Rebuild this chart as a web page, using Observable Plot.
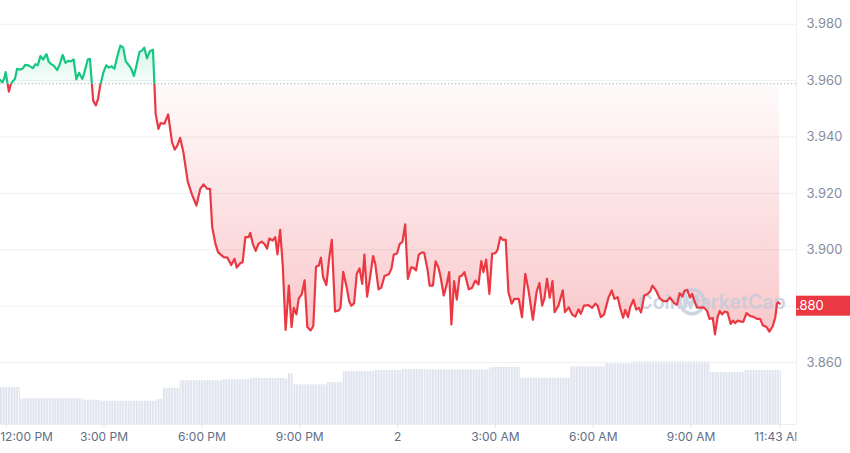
<!DOCTYPE html>
<html>
<head>
<meta charset="utf-8">
<script src="https://cdn.jsdelivr.net/npm/d3@7"></script>
<script src="https://cdn.jsdelivr.net/npm/@observablehq/plot@0.6"></script>
<style>
html,body{margin:0;padding:0;background:#fff;}
#wrap{position:relative;width:850px;height:453px;overflow:hidden;font-family:Inter,"Noto Sans",sans-serif;}
#wrap svg{position:absolute;left:0;top:0;}
</style>
</head>
<body>
<div id="wrap"></div>
<script>
// ---- price series (24h, local time; hour wrap = next day) ----
const times = ["11:45","11:53","11:56","11:59","12:02","12:05","12:08","12:12","12:16","12:20","12:25","12:30","12:35","12:41","12:49","12:54","12:58","13:03","13:08","13:14","13:18","13:23","13:27","13:34","13:38","13:44","13:49","13:54","13:59","14:04","14:09","14:14","14:20","14:24","14:30","14:34","14:36","14:40","14:45","14:49","14:53","14:59","15:04","15:09","15:14","15:19","15:24","15:30","15:35","15:40","15:45","15:50","15:55","16:00","16:05","16:10","16:14","16:19","16:24","16:30","16:35","16:40","16:44","16:51","16:58","17:05","17:10","17:15","17:20","17:26","17:34","17:42","17:50","17:57","18:03","18:10","18:15","18:19","18:25","18:30","18:40","18:47","18:54","19:00","19:04","19:11","19:15","19:20","19:26","19:29","19:34","19:39","19:44","19:50","19:55","20:00","20:04","20:10","20:15","20:19","20:24","20:29","20:34","20:40","20:45","20:49","20:54","20:58","21:04","21:09","21:14","21:20","21:25","21:30","21:35","21:39","21:43","21:49","21:54","21:59","22:05","22:12","22:15","22:20","22:26","22:31","22:35","22:40","22:45","22:50","22:55","22:59","23:04","23:09","23:15","23:19","23:25","23:30","23:36","23:44","23:49","23:53","23:59","00:04","00:09","00:14","00:19","00:25","00:30","00:34","00:39","00:45","00:49","00:55","00:59","01:05","01:10","01:15","01:19","01:25","01:30","01:35","01:39","01:44","01:49","01:54","01:58","02:03","02:11","02:17","02:23","02:29","02:34","02:38","02:43","02:49","02:54","03:00","03:04","03:09","03:14","03:19","03:24","03:30","03:35","03:43","03:49","03:55","04:01","04:09","04:16","04:21","04:26","04:30","04:35","04:40","04:45","04:49","04:56","05:04","05:08","05:15","05:21","05:27","05:33","05:37","05:43","05:51","05:58","06:04","06:08","06:14","06:20","06:28","06:34","06:39","06:45","06:50","06:55","06:59","07:04","07:08","07:14","07:19","07:24","07:28","07:34","07:40","07:45","07:49","07:56","08:02","08:09","08:16","08:21","08:29","08:34","08:39","08:44","08:48","08:53","08:58","09:02","09:07","09:11","09:18","09:23","09:29","09:34","09:40","09:44","09:49","09:53","09:57","10:02","10:07","10:13","10:17","10:21","10:26","10:30","10:36","10:42","10:49","10:55","11:01","11:07","11:12","11:19","11:24","11:30","11:35","11:38","11:40","11:43"];
const prices = [3.9609,3.9594,3.9606,3.9630,3.9594,3.9561,3.9585,3.9597,3.9606,3.9642,3.9639,3.9642,3.9656,3.9654,3.9644,3.9658,3.9654,3.9687,3.9675,3.9694,3.9668,3.9658,3.9654,3.9637,3.9656,3.9691,3.9663,3.9670,3.9668,3.9675,3.9604,3.9628,3.9606,3.9630,3.9675,3.9677,3.9630,3.9529,3.9512,3.9535,3.9583,3.9630,3.9654,3.9646,3.9651,3.9642,3.9683,3.9724,3.9718,3.9668,3.9656,3.9642,3.9616,3.9656,3.9701,3.9707,3.9717,3.9679,3.9703,3.9710,3.9482,3.9429,3.9449,3.9447,3.9480,3.9382,3.9355,3.9370,3.9397,3.9346,3.9242,3.9195,3.9157,3.9216,3.9232,3.9216,3.9216,3.9080,3.9021,3.8991,3.8974,3.8972,3.8946,3.8968,3.8937,3.8953,3.8956,3.9045,3.9045,3.9060,3.9019,3.8996,3.9021,3.9029,3.9021,3.9004,3.9040,3.9033,3.9045,3.8984,3.9071,3.8938,3.8716,3.8873,3.8726,3.8794,3.8771,3.8826,3.8844,3.8892,3.8726,3.8714,3.8729,3.8940,3.8944,3.8972,3.8903,3.8875,3.8966,3.9035,3.8781,3.8785,3.8795,3.8922,3.8871,3.8817,3.8802,3.8810,3.8915,3.8934,3.8879,3.8983,3.8834,3.8897,3.8978,3.8950,3.8860,3.8866,3.8907,3.8913,3.8935,3.8983,3.8987,3.9021,3.9028,3.9090,3.8897,3.8938,3.8935,3.8927,3.8983,3.8991,3.8989,3.8932,3.8873,3.8873,3.8959,3.8938,3.8906,3.8838,3.8873,3.8921,3.8735,3.8889,3.8823,3.8905,3.8908,3.8921,3.8860,3.8865,3.8891,3.8877,3.8960,3.8921,3.8965,3.8844,3.8986,3.8988,3.9000,3.9045,3.9035,3.9035,3.8850,3.8809,3.8826,3.8826,3.8761,3.8915,3.8856,3.8752,3.8853,3.8882,3.8802,3.8826,3.8897,3.8830,3.8889,3.8779,3.8802,3.8856,3.8779,3.8796,3.8771,3.8763,3.8789,3.8773,3.8802,3.8804,3.8794,3.8809,3.8802,3.8761,3.8771,3.8830,3.8856,3.8826,3.8832,3.8791,3.8759,3.8787,3.8761,3.8796,3.8823,3.8788,3.8794,3.8778,3.8838,3.8843,3.8853,3.8873,3.8854,3.8829,3.8818,3.8818,3.8831,3.8811,3.8805,3.8846,3.8834,3.8855,3.8858,3.8830,3.8844,3.8814,3.8796,3.8795,3.8796,3.8785,3.8755,3.8758,3.8700,3.8763,3.8783,3.8771,3.8781,3.8778,3.8737,3.8749,3.8740,3.8749,3.8746,3.8744,3.8775,3.8765,3.8762,3.8755,3.8755,3.8732,3.8726,3.8710,3.8728,3.8760,3.8809,3.8814,3.8809];
const baseline = 3.9589;      // 24h open (dotted reference)
const currentPrice = 3.880;   // price tag on the right

// ---- volume steps ----
const volStart = ["11:43","12:26","14:22","14:53","16:38","16:49","17:20","18:38","19:29","20:34","20:39","20:48","21:51","22:20","23:19","00:09","00:51","02:50","03:46","05:18","06:22","07:12","09:35","10:39","11:46"];
const volume = [37,25.7,24.3,23.3,25,36.3,43.7,44.7,46,45,50.7,39.7,42,53,54,55,54.7,57,46.3,57.7,60.7,62.7,52,54];

// ---- axes ----
const yTicks = [3.86,3.88,3.90,3.92,3.94,3.96,3.98];
const xTickTimes = ["12:00","15:00","18:00","21:00","00:00","03:00","06:00","09:00","11:43"];
const xTickLabels = ["12:00 PM","3:00 PM","6:00 PM","9:00 PM","2","3:00 AM","6:00 AM","9:00 AM","11:43 AM"];

if (times.length !== prices.length) throw new Error("length mismatch " + times.length + " vs " + prices.length);

function parseSeries(arr, startDay = 1) {
  let day = startDay, prev = -1;
  return arr.map(s => {
    const [h, m] = s.split(":").map(Number);
    const mins = h * 60 + m;
    if (mins < prev) day++;
    prev = mins;
    return new Date(2024, 5, day, h, m);
  });
}
const dates = parseSeries(times);
const data = dates.map((d, i) => ({date: d, price: prices[i]}));
const vDates = parseSeries(volStart);
const volData = volume.map((v, i) => ({start: vDates[i], end: vDates[i + 1], v}));
const xTickDates = parseSeries(xTickTimes);
const xDomain = [new Date(2024, 5, 1, 11, 49, 30), new Date(2024, 5, 2, 12, 14)];
const yDomain = [3.83805, 3.9884];
// the tick hidden under the current-price tag is not printed
const yLabelTicks = yTicks.filter(t => Math.abs(t - currentPrice) > 0.005);

const W = 850, H = 453, MR = 54, MB = 29;
const labelFont = "Inter, 'Noto Sans', sans-serif";

// ---- volume layer ----
const vol = Plot.plot({
  width: W, height: H, marginLeft: 0, marginRight: MR, marginTop: 324, marginBottom: MB,
  style: {background: "transparent"},
  x: {type: "time", domain: xDomain, axis: null},
  y: {domain: [0, 100], axis: null},
  marks: [
    Plot.rectY(volData, {x1: "start", x2: "end", y: "v", fill: "url(#volPat)"})
  ]
});
{
  const xs = vol.scale("x");
  const step = xs.apply(new Date(+xDomain[0] + 5 * 60000)) - xs.apply(xDomain[0]);
  const defs = d3.select(vol).insert("defs", ":first-child");
  const p = defs.append("pattern").attr("id", "volPat").attr("patternUnits", "userSpaceOnUse")
    .attr("x", 0).attr("y", 0).attr("width", step).attr("height", 10);
  p.append("rect").attr("width", step).attr("height", 10).attr("fill", "#f6f7fa");
  p.append("rect").attr("width", step * 0.6).attr("height", 10).attr("fill", "#dee2ee");
}

// ---- price layer ----
const main = Plot.plot({
  width: W, height: H, marginLeft: 0, marginRight: MR, marginTop: 0, marginBottom: MB,
  style: {background: "transparent", fontFamily: labelFont, overflow: "visible"},
  x: {type: "time", domain: xDomain, axis: null},
  y: {domain: yDomain, axis: null},
  marks: [
    Plot.ruleY(yTicks, {stroke: "#eff0f3"}),
    Plot.ruleX([xDomain[1]], {stroke: "#eff0f3"}),
    Plot.frame({anchor: "bottom", stroke: "#eceef2"}),
    Plot.axisX({ticks: xTickDates, tickSize: 4, tickFormat: () => "", stroke: "#e3e6ec", label: null}),
    Plot.ruleY([baseline], {stroke: "#a9afbc", strokeDasharray: "1.3,2.2"}),
    Plot.areaY(data, {x: "date", y1: baseline, y2: "price", fill: "url(#gradUp)"}),
    Plot.areaY(data, {x: "date", y1: baseline, y2: "price", fill: "url(#gradDown)"}),
    Plot.lineY(data, {x: "date", y: "price", stroke: "#16c784", strokeWidth: 2.2}),
    Plot.lineY(data, {x: "date", y: "price", stroke: "#ea3943", strokeWidth: 2.2}),
    Plot.text(yLabelTicks, {x: xDomain[1], y: d => d, text: d => d.toFixed(3), textAnchor: "start", dx: 10, fill: "#858ea0", fontSize: 13}),
    Plot.text(xTickLabels.slice(0, 1), {x: (d, i) => xTickDates[i], text: d => d, frameAnchor: "bottom", dy: 16, textAnchor: "start", dx: -6, fill: "#616e85", fontSize: 12}),
    Plot.text(xTickLabels.slice(1), {x: (d, i) => xTickDates[i + 1], text: d => d, frameAnchor: "bottom", dy: 16, fill: "#616e85", fontSize: 12, fontWeight: (d) => d === "2" ? 700 : 400})
  ]
});

{
  const ys = main.scale("y"), xs = main.scale("x");
  const yb = ys.apply(baseline);
  const xr = xs.apply(xDomain[1]);
  const svg = d3.select(main);
  const defs = svg.insert("defs", ":first-child");
  const gu = defs.append("linearGradient").attr("id", "gradUp").attr("gradientUnits", "userSpaceOnUse")
    .attr("x1", 0).attr("x2", 0).attr("y1", ys.apply(3.973)).attr("y2", yb);
  gu.append("stop").attr("offset", 0).attr("stop-color", "#16c784").attr("stop-opacity", 0.2);
  gu.append("stop").attr("offset", 1).attr("stop-color", "#16c784").attr("stop-opacity", 0.03);
  const gd = defs.append("linearGradient").attr("id", "gradDown").attr("gradientUnits", "userSpaceOnUse")
    .attr("x1", 0).attr("x2", 0).attr("y1", yb).attr("y2", ys.apply(3.870));
  gd.append("stop").attr("offset", 0).attr("stop-color", "#ea3943").attr("stop-opacity", 0.02);
  gd.append("stop").attr("offset", 1).attr("stop-color", "#ea3943").attr("stop-opacity", 0.28);
  defs.append("clipPath").attr("id", "clipUp").append("rect").attr("x", -10).attr("y", -10).attr("width", W + 20).attr("height", yb + 10);
  defs.append("clipPath").attr("id", "clipDown").append("rect").attr("x", -10).attr("y", yb).attr("width", W + 20).attr("height", H - yb);
  defs.append("clipPath").attr("id", "clipX").append("rect").attr("x", -10).attr("y", 0).attr("width", xr + 10).attr("height", H);

  const areas = svg.selectAll('g[aria-label="area"]').nodes();
  d3.select(areas[0]).attr("clip-path", "url(#clipUp)");
  d3.select(areas[1]).attr("clip-path", "url(#clipDown)");
  const lines = svg.selectAll('g[aria-label="line"]').nodes();
  d3.select(lines[0]).attr("clip-path", "url(#clipUp)");
  d3.select(lines[1]).attr("clip-path", "url(#clipDown)");
  const texts = svg.selectAll('g[aria-label="text"]').nodes();
  d3.select(texts[2]).attr("clip-path", "url(#clipX)");

  // price tag + watermark, placed beneath the lines
  const layer = svg.insert("g", () => lines[0]);
  const yc = ys.apply(currentPrice);
  layer.append("rect").attr("x", xr).attr("y", yc - 10).attr("width", W - xr).attr("height", 20).attr("fill", "#ea3943");
  layer.append("text").attr("x", xr + 10).attr("y", yc).attr("dy", "0.35em").attr("fill", "#fff")
    .attr("font-size", 13).attr("font-family", labelFont).text(currentPrice.toFixed(3));
  const wm = layer.append("g").attr("opacity", 0.8).attr("transform", `translate(${xr - 104},${yc - 4})`);
  wm.append("circle").attr("cx", 0).attr("cy", 0).attr("r", 12).attr("fill", "none").attr("stroke", "#c3cbdc").attr("stroke-width", 3.4);
  wm.append("path").attr("d", "M-6,5 L-6,-2 L-2,3 L1,-3 L4,3 L7,-1").attr("fill", "none").attr("stroke", "#c3cbdc").attr("stroke-width", 2.8).attr("stroke-linejoin", "round").attr("stroke-linecap", "round");
  wm.append("text").attr("x", 20).attr("y", 0).attr("dy", "0.36em").attr("fill", "#c3cbdc")
    .attr("font-size", 19.5).attr("font-weight", 600).attr("font-family", labelFont).text("CoinMarketCap");
}

const wrap = document.getElementById("wrap");
wrap.appendChild(vol);
wrap.appendChild(main);
</script>
</body>
</html>
